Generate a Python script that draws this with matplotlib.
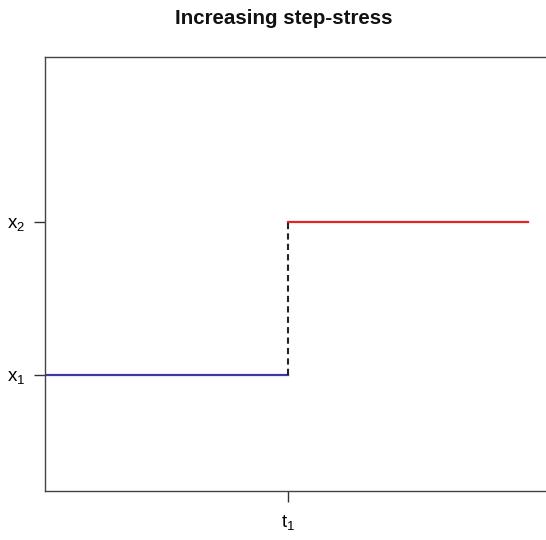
import matplotlib
matplotlib.use('Agg')
import matplotlib.pyplot as plt

plt.rcParams['font.family'] = ['Liberation Sans', 'DejaVu Sans']
plt.rcParams['mathtext.default'] = 'regular'

# step-stress profile: change time t1 and the two stress levels
t_start, t1, t_end = 0.0, 1.0, 2.0
stress_levels = [1.0, 2.0]
tick_t = [t1]
tick_t_labels = ['$t_1$']
tick_x_labels = ['$x_1$', '$x_2$']

fig = plt.figure(figsize=(5.46, 5.40), dpi=100)
ax = fig.add_axes([0.0824, 0.0907, 0.925, 0.8037])

ax.plot([t_start, t1], [stress_levels[0]] * 2, color='#3a3aa8', lw=1.6)
ax.plot([t1, t_end], [stress_levels[1]] * 2, color='#e02525', lw=1.6)
ax.plot([t1, t1], stress_levels, color='#222222', lw=1.5, ls=(0, (3, 2)))

ax.set_xlim(-0.01, 2.09)
ax.set_ylim(0.24, 3.08)
ax.set_xticks(tick_t)
ax.set_xticklabels(tick_t_labels, fontsize=13.5)
ax.set_yticks(stress_levels)
ax.set_yticklabels(tick_x_labels, fontsize=13.5)
ax.tick_params(direction='out', length=8, width=1, color='#333333', pad=6)
ax.tick_params(axis='x', pad=8)
for s in ax.spines.values():
    s.set_color('#444444')
    s.set_linewidth(1.0)

fig.text(0.52, 0.965, 'Increasing step-stress', ha='center', va='center',
         fontsize=14.8, fontweight='bold', color='#111111')

fig.savefig('out.png', dpi=100)
